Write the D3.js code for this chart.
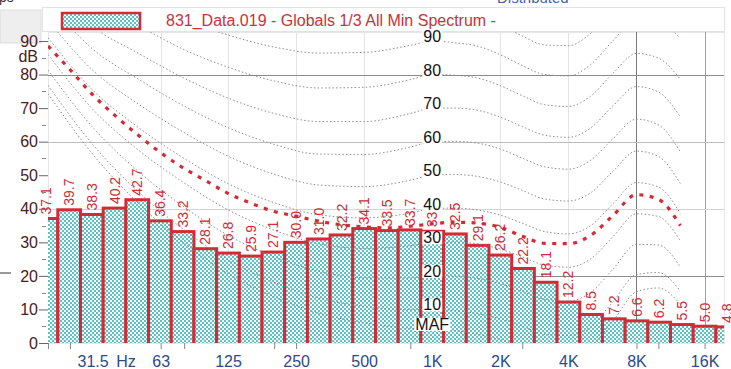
<!DOCTYPE html>
<html>
<head>
<meta charset="utf-8">
<script src="https://cdnjs.cloudflare.com/ajax/libs/d3/7.8.5/d3.min.js"></script>
<style>
body { margin: 0; background: #fff; overflow: hidden; }
svg { display: block; font-family: "Liberation Sans", Arial, sans-serif; }
</style>
</head>
<body>
<div id="chart"></div>
<script>
// 1/3 octave bands and measured levels (dB)
var bandFreqs = [20, 25, 31.5, 40, 50, 63, 80, 100, 125, 160, 200, 250, 315, 400, 500, 630, 800,
    1000, 1250, 1600, 2000, 2500, 3150, 4000, 5000, 6300, 8000, 10000, 12500, 16000, 20000];
var bandLevels = [37.1, 39.7, 38.3, 40.2, 42.7, 36.4, 33.2, 28.1, 26.8, 25.9, 27.1, 30.0, 31.0, 32.2, 34.1, 33.5, 33.7,
    33.3, 32.5, 29.1, 26.2, 22.2, 18.1, 12.2, 8.5, 7.2, 6.6, 6.2, 5.5, 5.0, 4.8];

// equal loudness contours (dB)
var contourFreqs = [20, 31.5, 50, 80, 125, 200, 315, 500, 800, 1000, 1250, 1600, 2000, 2500, 3150, 4000, 5000, 6300, 8000, 10000, 12500];
var contourMAF = [74.3, 56.3, 41.7, 29.8, 20.7, 13.8, 8.9, 6.0, 4.4, 4.2, 3.7, 2.6, 1.0, -1.2, -3.6, -3.9, -1.1, 6.6, 15.3, 16.4, 11.6];
var contour10 = [76.8, 59.2, 45.1, 33.7, 24.8, 18.1, 13.4, 10.9, 9.9, 10, 9.7, 8.7, 7.2, 5.0, 2.6, 2.2, 4.8, 12.3, 20.4, 21.0, 15.5];
var contour20 = [81.3, 64.3, 51.2, 40.5, 32.1, 25.7, 21.4, 19.4, 19.4, 20, 19.9, 19.2, 17.7, 15.4, 13.0, 12.5, 15.0, 22.0, 29.4, 29.2, 22.7];
var contour30 = [86.0, 69.7, 57.6, 47.7, 39.7, 33.6, 29.6, 28.2, 29.0, 30, 30.1, 29.5, 28.0, 25.7, 23.2, 22.6, 25.0, 31.7, 38.5, 37.7, 30.4];
var contour40 = [91.0, 75.4, 64.3, 55.0, 47.5, 41.8, 38.2, 37.3, 38.7, 40, 40.2, 39.6, 38.1, 35.7, 33.2, 32.5, 34.9, 41.5, 47.8, 46.5, 38.6];
var contour50 = [96.2, 81.3, 71.3, 62.7, 55.7, 50.3, 47.1, 46.6, 48.5, 50, 50.2, 49.6, 48.0, 45.5, 42.9, 42.3, 44.7, 51.2, 57.2, 55.6, 47.5];
var contour60 = [101.7, 87.6, 78.7, 70.6, 64.2, 59.2, 56.3, 56.2, 58.4, 60, 60.1, 59.5, 57.8, 55.1, 52.5, 51.8, 54.4, 60.9, 66.7, 65.0, 57.0];
var contour70 = [107.6, 94.3, 86.4, 78.9, 73.0, 68.4, 66.0, 66.0, 68.4, 70, 70.0, 69.3, 67.3, 64.5, 61.9, 61.3, 64.0, 70.7, 76.4, 74.8, 67.4];
var contour80 = [113.7, 101.3, 94.6, 87.4, 82.2, 78.1, 76.0, 76.2, 78.5, 80, 79.8, 78.9, 76.7, 73.7, 71.0, 70.5, 73.5, 80.4, 86.3, 84.9, 78.6];
var contour90 = [120.3, 108.7, 103.2, 96.3, 91.8, 88.2, 86.4, 86.6, 88.7, 90, 89.5, 88.4, 85.9, 82.7, 80.0, 79.6, 82.9, 90.1, 96.4, 95.5, 90.9];
var contour100 = [127.2, 116.6, 112.3, 105.6, 101.8, 98.7, 97.2, 97.4, 99.0, 100, 99.1, 97.7, 94.9, 91.5, 88.8, 88.6, 92.2, 99.9, 106.6, 106.5, 104.3];
var contourNames = ["MAF", "10", "20", "30", "40", "50", "60", "70", "80", "90"];

// highlighted (red dotted) curve
var refFreqs = [20, 25, 31.5, 40, 50, 63, 80, 100, 125, 160, 200, 250, 315, 400, 500, 630, 800, 1000, 1250, 1600, 2000, 2500, 3150, 4000, 5000, 6300, 8000, 10000, 12500];
var refLevels = [88.5, 81.5, 74.0, 67.5, 62.0, 56.7, 52.0, 48.3, 44.6, 41.5, 39.2, 37.8, 36.3, 35.2, 34.6, 34.3, 34.8, 35.5, 36.0, 35.7, 34.5, 31.8, 29.7, 29.6, 32.0, 38.0, 44.2, 42.8, 35.0];

var freqTickLabels = [31.5, 63, 125, 250, 500, 1000, 2000, 4000, 8000, 16000];
var freqMinorTicks = [20, 25, 63, 80, 200, 250, 800, 2500, 8000, 10000, 16000];
var levelTicks = [0, 10, 20, 30, 40, 50, 60, 70, 80, 90];
var legendLabel = "831_Data.019 - Globals 1/3 All Min Spectrum -";

var width = 731, height = 369;
var plot = {left: 48, right: 724, top: 32, bottom: 343};

var x = d3.scaleLog().domain([20, 19500]).range([plot.left, plot.right]);
var y = d3.scaleLinear().domain([0, 90]).range([plot.bottom, 41]);

var svg = d3.select("#chart").append("svg")
    .attr("width", width)
    .attr("height", height);

var defs = svg.append("defs");
var pat = defs.append("pattern")
    .attr("id", "checker")
    .attr("width", 4).attr("height", 4)
    .attr("patternUnits", "userSpaceOnUse");
pat.append("rect").attr("width", 4).attr("height", 4).attr("fill", "#ffffff");
pat.append("rect").attr("width", 2).attr("height", 2).attr("fill", "#58c4c8");
pat.append("rect").attr("x", 2).attr("y", 2).attr("width", 2).attr("height", 2).attr("fill", "#58c4c8");

defs.append("clipPath").attr("id", "plotclip")
    .append("rect")
    .attr("x", plot.left).attr("y", plot.top)
    .attr("width", plot.right - plot.left).attr("height", plot.bottom - plot.top);

// ---- surrounding window bits (cropped screenshot) ----
svg.append("rect").attr("x", 0).attr("y", 10).attr("width", 41).attr("height", 33)
    .attr("fill", "#eeeeee").attr("stroke", "#dddddd");
svg.append("text").attr("x", -1).attr("y", 2).attr("font-size", 14).attr("fill", "#333").text("ps");
svg.append("text").attr("x", 497).attr("y", 3).attr("font-size", 15).attr("fill", "#3c62b0").text("Distributed");
svg.append("line").attr("x1", 0).attr("x2", 11).attr("y1", 273).attr("y2", 273)
    .attr("stroke", "#777").attr("stroke-width", 1.5);

// ---- legend ----
svg.append("rect")
    .attr("x", 42.5).attr("y", 7.5).attr("width", 682).attr("height", 24)
    .attr("fill", "#fff").attr("stroke", "#e2e2e2");
svg.append("rect")
    .attr("x", 62).attr("y", 13).attr("width", 78).attr("height", 16)
    .attr("fill", "url(#checker)").attr("stroke", "#d42a33").attr("stroke-width", 2.5);
svg.append("text")
    .attr("x", 166).attr("y", 26)
    .attr("font-size", 16).attr("fill", "#c8323a")
    .text(legendLabel);

// ---- plot frame & grid ----
svg.append("rect")
    .attr("x", plot.left + 0.5).attr("y", plot.top + 0.5)
    .attr("width", plot.right - plot.left).attr("height", plot.bottom - plot.top)
    .attr("fill", "#fff").attr("stroke", "#e6e6e6");

var vGridColor = function (f) {
    if (f === 8000) return "#7a7a7a";
    if (f === 16000) return "#a0a0a0";
    return "#e4e4e4";
};
svg.append("g").selectAll("line")
    .data(freqTickLabels.filter(function (f) { return f !== 31.5 && f !== 1000; }))
    .enter().append("line")
    .attr("x1", function (d) { return Math.round(x(d)) + 0.5; })
    .attr("x2", function (d) { return Math.round(x(d)) + 0.5; })
    .attr("y1", plot.top).attr("y2", plot.bottom)
    .attr("stroke", vGridColor);

var hGridColor = {20: "#8c8c8c", 40: "#d4d4d4", 60: "#bcbcbc", 80: "#8c8c8c"};
svg.append("g").selectAll("line")
    .data([20, 40, 60, 80])
    .enter().append("line")
    .attr("x1", plot.left).attr("x2", plot.right)
    .attr("y1", function (d) { return Math.round(y(d)) + 0.5; })
    .attr("y2", function (d) { return Math.round(y(d)) + 0.5; })
    .attr("stroke", function (d) { return hGridColor[d]; });

// ---- bars ----
function bandCenter(f) {
    var n = Math.round(3 * Math.log2(f / 1000));
    return 1000 * Math.pow(2, n / 3);
}
var half = Math.pow(2, 1 / 6);
var bands = bandFreqs.map(function (f, i) {
    return {f: f, fc: bandCenter(f), v: bandLevels[i]};
});

svg.append("g")
    .attr("clip-path", "url(#plotclip)")
    .selectAll("rect")
    .data(bands)
    .enter().append("rect")
    .attr("x", function (d) { return x(d.fc / half); })
    .attr("width", function (d) { return x(d.fc * half) - x(d.fc / half); })
    .attr("y", function (d) { return y(d.v); })
    .attr("height", function (d) { return y(0) - y(d.v) + 4; })
    .attr("fill", "url(#checker)")
    .attr("stroke", "#d42a33")
    .attr("stroke-width", 3);

// ---- contours ----
var contourSets = [contourMAF, contour10, contour20, contour30, contour40, contour50, contour60, contour70, contour80, contour90, contour100];
var contourLine = d3.line()
    .curve(d3.curveMonotoneX)
    .x(function (d) { return x(d.f); })
    .y(function (d) { return y(d.v); });

var contours = svg.append("g").attr("clip-path", "url(#plotclip)");
contours.selectAll("path")
    .data(contourSets.map(function (vals) {
        return vals.map(function (v, i) { return {f: contourFreqs[i], v: v}; });
    }))
    .enter().append("path")
    .attr("d", contourLine)
    .attr("fill", "none")
    .attr("stroke", "#808080")
    .attr("stroke-width", 0.9)
    .attr("stroke-dasharray", "1.5,2.2");

contours.append("path")
    .datum(refLevels.map(function (v, i) { return {f: refFreqs[i], v: v}; }))
    .attr("d", contourLine)
    .attr("fill", "none")
    .attr("stroke", "#d42a35")
    .attr("stroke-width", 3.2)
    .attr("stroke-dasharray", "4,6.5");

// ---- value labels ----
svg.append("g").selectAll("text")
    .data(bands)
    .enter().append("text")
    .attr("transform", function (d) {
        return "translate(" + x(d.fc) + "," + (y(d.v) - 4) + ") rotate(-90)";
    })
    .attr("dy", "0.36em")
    .attr("font-size", 14)
    .attr("fill", "#cc2c36")
    .text(function (d) { return d.v.toFixed(1); });

// ---- contour labels at 1 kHz ----
var contourLabels = svg.append("g");
contourNames.forEach(function (name, i) {
    var yy = y(contourSets[i][9]) + 1;
    var g = contourLabels.append("g");
    var t = g.append("text")
        .attr("x", x(1000)).attr("y", yy)
        .attr("text-anchor", "middle")
        .attr("font-size", 16)
        .attr("fill", "#111")
        .text(name);
    var bb = t.node().getBBox();
    g.insert("rect", "text")
        .attr("x", bb.x - 1).attr("y", bb.y + 2)
        .attr("width", bb.width + 2).attr("height", bb.height - 4)
        .attr("fill", "#fff");
});

// ---- axes ----
var yAxis = svg.append("g")
    .attr("transform", "translate(" + plot.left + ",0)")
    .call(d3.axisLeft(y).tickValues(levelTicks).tickSize(9).tickPadding(1));
yAxis.select(".domain").remove();
yAxis.selectAll(".tick line").attr("stroke", "#666");
yAxis.selectAll(".tick text")
    .attr("font-size", 16)
    .attr("font-family", "Liberation Sans, Arial, sans-serif")
    .attr("fill", "#4a2020");
svg.append("g").selectAll("line")
    .data(d3.range(5, 90, 10))
    .enter().append("line")
    .attr("x1", plot.left - 6).attr("x2", plot.left - 2)
    .attr("y1", function (d) { return Math.round(y(d)) + 0.5; })
    .attr("y2", function (d) { return Math.round(y(d)) + 0.5; })
    .attr("stroke", "#888");
svg.append("text")
    .attr("x", 38).attr("y", 62)
    .attr("text-anchor", "end")
    .attr("font-size", 16)
    .attr("fill", "#4a2020")
    .text("dB");

var xTicks = svg.append("g")
    .attr("transform", "translate(0," + plot.bottom + ")")
    .call(d3.axisBottom(x).tickValues(freqMinorTicks).tickSize(6).tickFormat(""));
xTicks.select(".domain").remove();
xTicks.selectAll(".tick line").attr("stroke", "#888");

function fmtFreq(f) {
    return f >= 1000 ? (f / 1000) + "K" : "" + f;
}
var xAxis = svg.append("g")
    .attr("transform", "translate(0," + plot.bottom + ")")
    .call(d3.axisBottom(x).tickValues(freqTickLabels).tickSize(0).tickFormat(fmtFreq));
xAxis.select(".domain").remove();
xAxis.selectAll(".tick text")
    .attr("y", 24).attr("dy", 0)
    .attr("font-size", 16)
    .attr("font-family", "Liberation Sans, Arial, sans-serif")
    .attr("fill", "#2b4b8c");
svg.append("text")
    .attr("x", 126).attr("y", 367)
    .attr("text-anchor", "middle")
    .attr("font-size", 16)
    .attr("fill", "#2b4b8c")
    .text("Hz");
</script>
</body>
</html>
